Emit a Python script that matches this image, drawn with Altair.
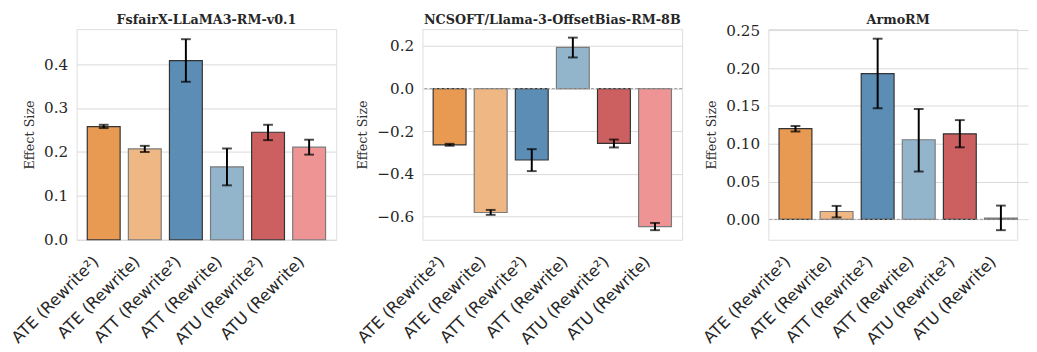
import altair as alt
import pandas as pd

categories = ["ATE (Rewrite²)", "ATE (Rewrite)", "ATT (Rewrite²)",
              "ATT (Rewrite)", "ATU (Rewrite²)", "ATU (Rewrite)"]
fill_colors = ["#E89A53", "#EFB784", "#5B8DB5", "#93B5CC", "#CC6060", "#EF9494"]
stroke_colors = ["#333333", "#7a7a7a", "#333333", "#7a7a7a", "#333333", "#7a7a7a"]

models = ["FsfairX-LLaMA3-RM-v0.1", "NCSOFT/Llama-3-OffsetBias-RM-8B", "ArmoRM"]

fsfairx_effect = [0.258, 0.207, 0.408, 0.166, 0.245, 0.211]
fsfairx_low = [0.2545, 0.200, 0.360, 0.124, 0.227, 0.194]
fsfairx_high = [0.262, 0.214, 0.457, 0.208, 0.262, 0.228]

ncsoft_effect = [-0.264, -0.581, -0.335, 0.193, -0.257, -0.647]
ncsoft_low = [-0.268, -0.592, -0.387, 0.146, -0.276, -0.664]
ncsoft_high = [-0.259, -0.569, -0.284, 0.239, -0.239, -0.630]

armo_effect = [0.120, 0.0104, 0.1928, 0.1053, 0.1131, 0.0017]
armo_low = [0.1161, 0.0026, 0.147, 0.0633, 0.0953, -0.0143]
armo_high = [0.1235, 0.0178, 0.239, 0.146, 0.1313, 0.0182]

y_domains = [[0, 0.48], [-0.709, 0.279], [-0.027, 0.2517]]
y_ticks = [[0.0, 0.1, 0.2, 0.3, 0.4],
           [-0.6, -0.4, -0.2, 0.0, 0.2],
           [0.0, 0.05, 0.10, 0.15, 0.20, 0.25]]
y_formats = [".1f", ".1f", ".2f"]

series = [(fsfairx_effect, fsfairx_low, fsfairx_high),
          (ncsoft_effect, ncsoft_low, ncsoft_high),
          (armo_effect, armo_low, armo_high)]

TEXT = "#262626"
PANEL_W = 265


def panel(i):
    eff, lo, hi = series[i]
    df = pd.DataFrame({"category": categories, "effect": eff, "low": lo, "high": hi})
    zero = pd.DataFrame({"zero": [0.0]})
    title_df = pd.DataFrame({"title": [models[i]]})
    width = PANEL_W if i < 2 else 254
    xscale = alt.Scale(paddingInner=0.2, paddingOuter=0.26) if i < 2 else \
        alt.Scale(paddingInner=0.2, paddingOuter=0.26, range=[0, PANEL_W])
    xaxis = alt.Axis(title=None, labelAngle=-45, labelAlign="right",
                     labelBaseline="bottom", labelFont="DejaVu Sans",
                     labelFontSize=16.5, labelColor=TEXT, ticks=False,
                     domain=False, labelPadding=25, labelOffset=-2, grid=False)
    yaxis = alt.Axis(title="Effect Size", values=y_ticks[i], format=y_formats[i],
                     labelFont="DejaVu Serif", labelFontSize=15.5, labelColor=TEXT,
                     titleFont="DejaVu Serif", titleFontSize=13,
                     titleFontWeight="normal", titleColor="#333333",
                     titlePadding=7, labelPadding=9, ticks=False, domain=False,
                     grid=True, gridColor="#d9d9d9", gridWidth=1)
    yscale = alt.Scale(domain=y_domains[i], nice=False, zero=False)

    def X():
        return alt.X("category:N", sort=categories, scale=xscale, axis=xaxis)

    def Y(field):
        return alt.Y(field, scale=yscale, axis=yaxis)

    bars = alt.Chart(df).mark_bar(strokeWidth=1.2).encode(
        x=X(), y=Y("effect:Q"),
        fill=alt.Fill("category:N", scale=alt.Scale(domain=categories, range=fill_colors), legend=None),
        stroke=alt.Stroke("category:N", scale=alt.Scale(domain=categories, range=stroke_colors), legend=None),
    )
    rule0 = alt.Chart(zero).mark_rule(color="#9a9a9a", strokeDash=[3, 2], strokeWidth=1).encode(
        y=Y("zero:Q"))
    err = alt.Chart(df).mark_rule(color="black", strokeWidth=2).encode(
        x=X(), y=Y("low:Q"), y2="high:Q")
    cap_lo = alt.Chart(df).mark_tick(color="black", thickness=2, size=10).encode(
        x=X(), y=Y("low:Q"))
    cap_hi = alt.Chart(df).mark_tick(color="black", thickness=2, size=10).encode(
        x=X(), y=Y("high:Q"))
    title = alt.Chart(title_df).mark_text(
        font="DejaVu Serif", fontSize=13, fontWeight="bold", color=TEXT,
        baseline="alphabetic", align="center"
    ).encode(x=alt.value(PANEL_W / 2), y=alt.value(-5), text="title:N")
    layers = [bars]
    if i > 0:
        layers.append(rule0)
    layers += [err, cap_lo, cap_hi, title]
    return alt.layer(*layers).properties(width=width, height=215)


chart = alt.hconcat(panel(0), panel(1), panel(2), spacing=88, bounds="flush").resolve_scale(
    x="independent", y="independent", fill="independent", stroke="independent"
).properties(
    padding={"left": 0, "top": 2, "right": 0, "bottom": 0}
).configure_view(stroke="#cccccc", strokeWidth=1).configure(background="white")

chart.save("out.html", embed_options={"renderer": "svg", "actions": False})
